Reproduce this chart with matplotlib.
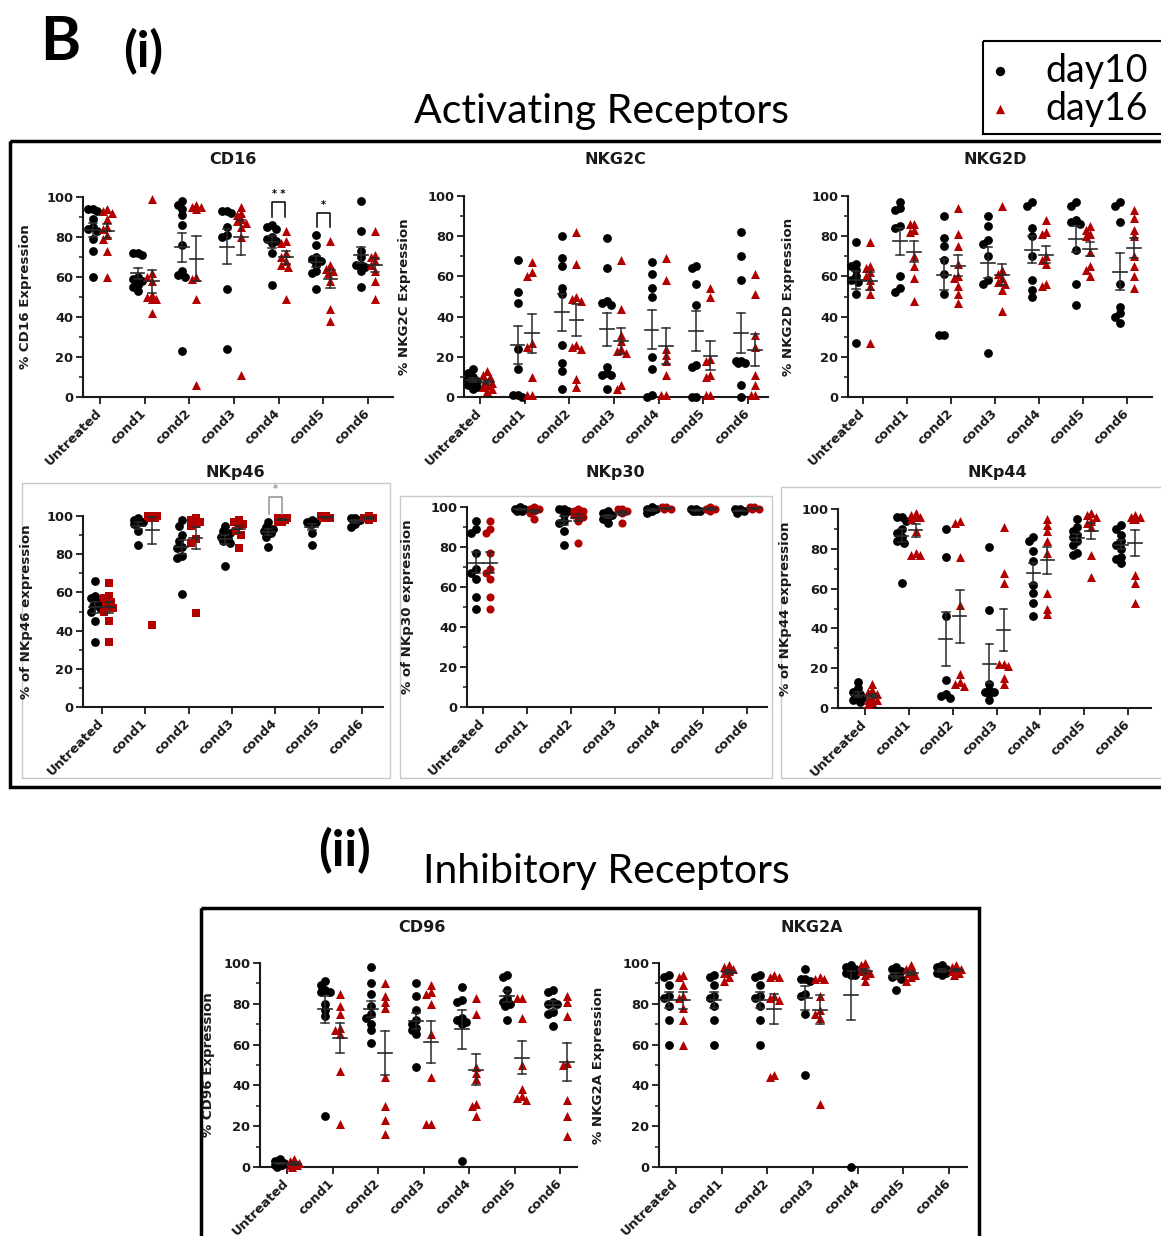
import numpy as np
import matplotlib
matplotlib.use("Agg")
import matplotlib.pyplot as plt
from matplotlib.patches import Rectangle
from matplotlib.ticker import MultipleLocator

plt.rcParams['font.family'] = 'DejaVu Sans'
plt.rcParams['font.weight'] = 'bold'

W, H = 1161, 1236
RED = '#b20000'
BAR = '#2a2a2a'

groups = ["Untreated", "cond1", "cond2", "cond3", "cond4", "cond5", "cond6"]

# ---- data ----
cd16_day10 = [[94, 94, 93, 89, 85, 84, 83, 79, 73, 60],
              [72, 72, 71, 60, 59, 58, 56, 55, 53],
              [98, 96, 94, 91, 86, 76, 63, 61, 60, 23],
              [93, 93, 92, 85, 81, 80, 54, 24],
              [86, 85, 84, 80, 79, 78, 77, 72, 56],
              [81, 76, 70, 69, 68, 66, 63, 62, 54],
              [98, 83, 73, 70, 66, 66, 65, 63, 55]]
cd16_day16 = [[94, 93, 92, 89, 85, 84, 81, 79, 73, 60],
              [99, 62, 60, 58, 51, 50, 49, 49, 42],
              [96, 95, 95, 94, 60, 59, 49, 6],
              [95, 92, 91, 89, 88, 87, 85, 80, 11],
              [83, 78, 77, 72, 70, 68, 66, 65, 49],
              [78, 66, 64, 63, 62, 58, 44, 38],
              [83, 71, 70, 68, 66, 63, 58, 49]]

nkg2c_day10 = [[14, 12, 10, 9, 8, 7, 6, 5, 4],
               [68, 52, 47, 24, 14, 1, 1, 0],
               [80, 69, 65, 54, 51, 26, 17, 13, 4],
               [79, 64, 48, 47, 46, 15, 12, 11, 11, 4],
               [67, 61, 54, 50, 20, 14, 1, 0],
               [65, 64, 56, 46, 16, 15, 0, 0],
               [82, 70, 58, 18, 18, 17, 17, 6, 0]]
nkg2c_day16 = [[13, 11, 10, 8, 7, 6, 5, 4, 3],
               [67, 62, 60, 27, 25, 10, 1, 1],
               [82, 66, 50, 49, 48, 26, 25, 24, 9, 5],
               [68, 44, 31, 28, 24, 23, 22, 6, 4],
               [69, 58, 24, 21, 18, 11, 1, 1],
               [54, 50, 19, 18, 11, 10, 1, 1],
               [61, 51, 31, 25, 11, 6, 1, 1]]

nkg2d_day10 = [[77, 66, 65, 63, 60, 58, 57, 51, 27],
               [97, 94, 93, 85, 84, 60, 54, 52],
               [90, 79, 75, 68, 61, 51, 31, 31],
               [90, 85, 78, 76, 70, 58, 56, 22],
               [97, 95, 84, 80, 70, 58, 53, 50],
               [97, 95, 88, 87, 86, 73, 56, 46],
               [97, 95, 87, 56, 45, 42, 40, 37]]
nkg2d_day16 = [[77, 65, 64, 62, 60, 58, 55, 51, 27],
               [86, 86, 83, 82, 70, 65, 59, 48],
               [94, 81, 75, 66, 60, 59, 55, 51, 47],
               [95, 63, 61, 59, 57, 56, 53, 43],
               [88, 82, 81, 70, 68, 66, 56, 55],
               [85, 83, 81, 80, 72, 65, 63, 60],
               [93, 89, 83, 80, 70, 65, 60, 54]]

nkp46_day10 = [[66, 58, 57, 55, 53, 52, 50, 45, 34],
               [99, 98, 97, 97, 96, 92, 85],
               [98, 95, 90, 87, 84, 83, 79, 78, 59],
               [95, 92, 91, 89, 88, 87, 86, 74],
               [97, 94, 93, 93, 92, 91, 89, 84],
               [98, 97, 97, 96, 96, 91, 85],
               [99, 99, 98, 98, 96, 94]]
nkp46_day16 = [[65, 58, 57, 55, 53, 52, 50, 45, 34],
               [100, 100, 100, 100, 99, 99, 99, 43],
               [99, 98, 97, 96, 95, 88, 86, 49],
               [98, 97, 96, 95, 92, 90, 83],
               [99, 99, 98, 98, 97, 97, 99],
               [100, 99, 99, 99, 99, 100],
               [100, 99, 99, 98, 99]]

nkp30_day10 = [[93, 89, 87, 77, 69, 67, 64, 55, 49],
               [100, 99, 99, 99, 98, 98],
               [99, 99, 98, 96, 93, 92, 88, 81],
               [98, 97, 96, 95, 94, 92],
               [100, 99, 99, 98, 97],
               [99, 99, 98, 98, 98],
               [99, 99, 98, 97]]
nkp30_day16 = [[93, 89, 87, 77, 69, 67, 64, 55, 49],
               [100, 99, 99, 98, 97, 94],
               [99, 98, 98, 97, 96, 95, 93, 82],
               [99, 99, 98, 98, 97, 92],
               [100, 100, 99, 99],
               [100, 99, 99, 98],
               [100, 100, 99, 99]]

nkp44_day10 = [[13, 10, 8, 7, 6, 5, 5, 4, 3],
               [96, 96, 94, 90, 88, 86, 84, 83, 63],
               [90, 76, 46, 14, 7, 6, 5],
               [81, 49, 12, 9, 8, 8, 7, 4],
               [86, 84, 79, 74, 62, 58, 53, 46],
               [95, 91, 89, 87, 86, 84, 82, 78, 77],
               [92, 90, 87, 84, 82, 80, 76, 75, 73]]
nkp44_day16 = [[12, 9, 8, 7, 5, 4, 4, 3, 2],
               [98, 97, 96, 96, 95, 89, 78, 77, 77],
               [94, 93, 76, 52, 17, 13, 12, 11],
               [91, 68, 63, 22, 22, 21, 15, 12],
               [95, 92, 89, 84, 78, 58, 50, 47],
               [98, 97, 96, 94, 93, 91, 77, 66],
               [97, 96, 96, 95, 95, 67, 63, 53]]

cd96_day10 = [[4, 3, 2, 2, 1, 1, 1, 0],
              [91, 89, 87, 86, 86, 80, 77, 74, 25],
              [98, 90, 85, 79, 75, 73, 70, 67, 61],
              [90, 84, 77, 72, 70, 68, 67, 65, 49],
              [88, 82, 81, 73, 72, 71, 70, 3],
              [94, 93, 87, 83, 81, 80, 79, 72],
              [87, 86, 81, 80, 80, 76, 75, 69]]
cd96_day16 = [[4, 3, 2, 1, 1, 1, 0],
              [85, 79, 75, 68, 67, 65, 47, 21],
              [90, 84, 81, 78, 44, 30, 23, 16],
              [89, 86, 85, 80, 65, 44, 21, 21],
              [83, 75, 49, 46, 43, 31, 30, 25],
              [83, 83, 73, 50, 38, 35, 34, 33],
              [84, 81, 74, 51, 50, 33, 25, 15]]

nkg2a_day10 = [[94, 93, 89, 84, 83, 79, 72, 60],
               [94, 93, 89, 84, 83, 79, 72, 60],
               [94, 93, 89, 84, 83, 79, 72, 60],
               [97, 92, 92, 91, 85, 84, 75, 45],
               [99, 98, 97, 96, 95, 94, 94, 0],
               [98, 97, 96, 94, 93, 92, 87],
               [99, 98, 97, 96, 95, 95, 94]]
nkg2a_day16 = [[94, 93, 89, 84, 83, 78, 72, 60],
               [99, 98, 97, 96, 95, 93, 91],
               [94, 93, 93, 84, 83, 82, 45, 44],
               [93, 92, 92, 84, 77, 75, 73, 31],
               [100, 99, 97, 96, 95, 94, 91],
               [99, 97, 96, 95, 94, 93, 91],
               [99, 98, 97, 97, 96, 95, 94]]

# title, ylabel, day10, day16, red marker,
# axes px box (left, right, top=100, bottom=0), first/last tick px, title px, ylabel x px
panels = [
    ("CD16", "% CD16 Expression", cd16_day10, cd16_day16, "^",
     (83, 393, 197, 397), (100, 368), (233, 160), 32),
    ("NKG2C", "% NKG2C Expression", nkg2c_day10, nkg2c_day16, "^",
     (464, 768, 196, 397), (480, 748), (615, 160), 411),
    ("NKG2D", "% NKG2D Expression", nkg2d_day10, nkg2d_day16, "^",
     (848, 1152, 196, 397), (863, 1127), (995, 160), 795),
    ("NKp46", "% of NKp46 expression", nkp46_day10, nkp46_day16, "s",
     (83, 383, 516, 707), (102, 362), (235, 472), 33),
    ("NKp30", "% of NKp30 expression", nkp30_day10, nkp30_day16, "o",
     (467, 767, 507, 707), (483, 747), (615, 472), 414),
    ("NKp44", "% of NKp44 expression", nkp44_day10, nkp44_day16, "^",
     (838, 1151, 509, 708), (865, 1128), (997, 472), 792),
    ("CD96", "% CD96 Expression", cd96_day10, cd96_day16, "^",
     (260, 577, 963, 1167), (287, 560), (422, 927), 215),
    ("NKG2A", "% NKG2A Expression", nkg2a_day10, nkg2a_day16, "^",
     (659, 967, 963, 1167), (676, 949), (812, 927), 605),
]


def swarm(vals, ypx, diam=8.5):
    # spread close points sideways (pixel offsets), Prism-like
    cands = [0.0, -2.5, 2.5, -4.5, 4.5]
    xs = np.zeros(len(vals))
    placed = []
    for k in np.argsort(-vals, kind='stable'):
        y = vals[k] * ypx
        best, bestd = 0.0, -1.0
        for c in cands:
            d = min([np.hypot(c - px, y - py) for px, py in placed], default=99.0)
            if d >= diam * 0.7:
                best = c
                break
            if d > bestd:
                best, bestd = c, d
        xs[k] = best
        placed.append((best, y))
    return xs


fig = plt.figure(figsize=(W / 100, H / 100), dpi=100)

ov = fig.add_axes([0, 0, 1, 1])
ov.set_xlim(0, W)
ov.set_ylim(H, 0)
ov.axis('off')

# frames
ov.add_patch(Rectangle((10, 141), 1170, 646, fill=False, ec='black', lw=2.5))
ov.add_patch(Rectangle((201, 908), 778, 340, fill=False, ec='black', lw=2.5))
for (bx0, by0, bx1, by1) in [(22, 483, 390, 778), (400, 496, 772, 778), (781, 487, 1170, 778)]:
    ov.add_patch(Rectangle((bx0, by0), bx1 - bx0, by1 - by0, fill=False, ec='#c8c8c8', lw=1))

# headings
ov.text(40, 42, "B", fontsize=44, fontweight='bold', family='Lato', va='center', ha='left')
ov.text(143, 52, "(i)", fontsize=36, fontweight='bold', family='Lato', va='center', ha='center')
ov.text(601, 112, "Activating Receptors", fontsize=29.5, fontweight='normal', family='Lato',
        va='center', ha='center')
ov.text(345, 851, "(ii)", fontsize=36, fontweight='bold', family='Lato', va='center', ha='center')
ov.text(606, 871, "Inhibitory Receptors", fontsize=29.5, fontweight='normal', family='Lato',
        va='center', ha='center')

# legend
ov.add_patch(Rectangle((983, 41), 190, 93, fill=False, ec='black', lw=1.5))
ov.scatter([1000], [71], s=45, c='black', marker='o', linewidths=0)
ov.scatter([1000], [109], s=45, c=RED, marker='^', linewidths=0)
ov.text(1045, 71, "day10", fontsize=27, fontweight='normal', family='Lato', va='center', ha='left')
ov.text(1045, 109, "day16", fontsize=27, fontweight='normal', family='Lato', va='center', ha='left')

axes = {}
for title, ylab, d10, d16, rmark, box, ticks, tpos, ylx in panels:
    x0, x1, yt, yb = box
    t0, t6 = ticks
    sp = (t6 - t0) / 6.0
    ax = fig.add_axes([x0 / W, 1 - yb / H, (x1 - x0) / W, (yb - yt) / H])
    ax.set_facecolor('none')
    ax.set_xlim((x0 - t0) / sp, (x1 - t0) / sp)
    ax.set_ylim(0, 100)
    ypx = (yb - yt) / 100.0
    for series, dx, color, mk, ms in [(d10, -0.16, 'black', 'o', 40),
                                      (d16, 0.16, RED, rmark, 42 if rmark == '^' else 34)]:
        for i, vals in enumerate(series):
            vals = np.array(vals, dtype=float)
            xs = i + dx + swarm(vals, ypx) / sp
            ax.scatter(xs, vals, s=ms, c=color, marker=mk, linewidths=0, zorder=3, clip_on=False)
            m = vals.mean()
            se = vals.std(ddof=1) / np.sqrt(len(vals))
            cx = i + dx
            ax.plot([cx - 0.15, cx + 0.15], [m, m], color=BAR, lw=1.2, zorder=4)
            ax.plot([cx, cx], [m - se, m + se], color=BAR, lw=1.1, zorder=4)
            for yy in (m - se, m + se):
                ax.plot([cx - 0.09, cx + 0.09], [yy, yy], color=BAR, lw=1.1, zorder=4)

    for s in ('top', 'right'):
        ax.spines[s].set_visible(False)
    for s in ('left', 'bottom'):
        ax.spines[s].set_linewidth(1.5)
        ax.spines[s].set_color('#1a1a1a')
    ax.set_yticks([0, 20, 40, 60, 80, 100])
    ax.yaxis.set_minor_locator(MultipleLocator(10))
    ax.set_xticks(range(len(groups)))
    ax.set_xticklabels(groups, rotation=45, ha='right', va='center', rotation_mode='anchor')
    ax.tick_params(axis='both', which='major', length=5, width=1.3, labelsize=9.4,
                   color='#1a1a1a', labelcolor='#1a1a1a', pad=2)
    ax.tick_params(axis='x', pad=5)
    ax.tick_params(axis='y', which='minor', length=3, width=1.1, color='#1a1a1a')
    ax.set_ylabel(ylab, fontsize=9.6, fontweight='bold', color='#1a1a1a')
    ax.yaxis.set_label_coords((ylx - x0) / (x1 - x0), 0.5)
    ov.text(tpos[0], tpos[1], title, fontsize=11.5, fontweight='bold', ha='center', va='center',
            color='#1a1a1a')
    axes[title] = ax

# significance brackets
def bracket(ax, x, top, leg, label, color='black', ly=None):
    ax.plot([x - 0.15, x - 0.15, x + 0.15, x + 0.15], [leg, top, top, leg],
            color=color, lw=1.1, clip_on=False, zorder=5)
    ax.text(x, ly if ly is not None else top + 1.5, label, fontsize=7, ha='center', va='bottom',
            color=color, clip_on=False)

bracket(axes["CD16"], 4, 97.5, 90, "* *")
bracket(axes["CD16"], 5, 92, 85, "*")
bracket(axes["NKp46"], 4, 110, 101, "*", color='#909090')

fig.savefig("out.png", dpi=100)
